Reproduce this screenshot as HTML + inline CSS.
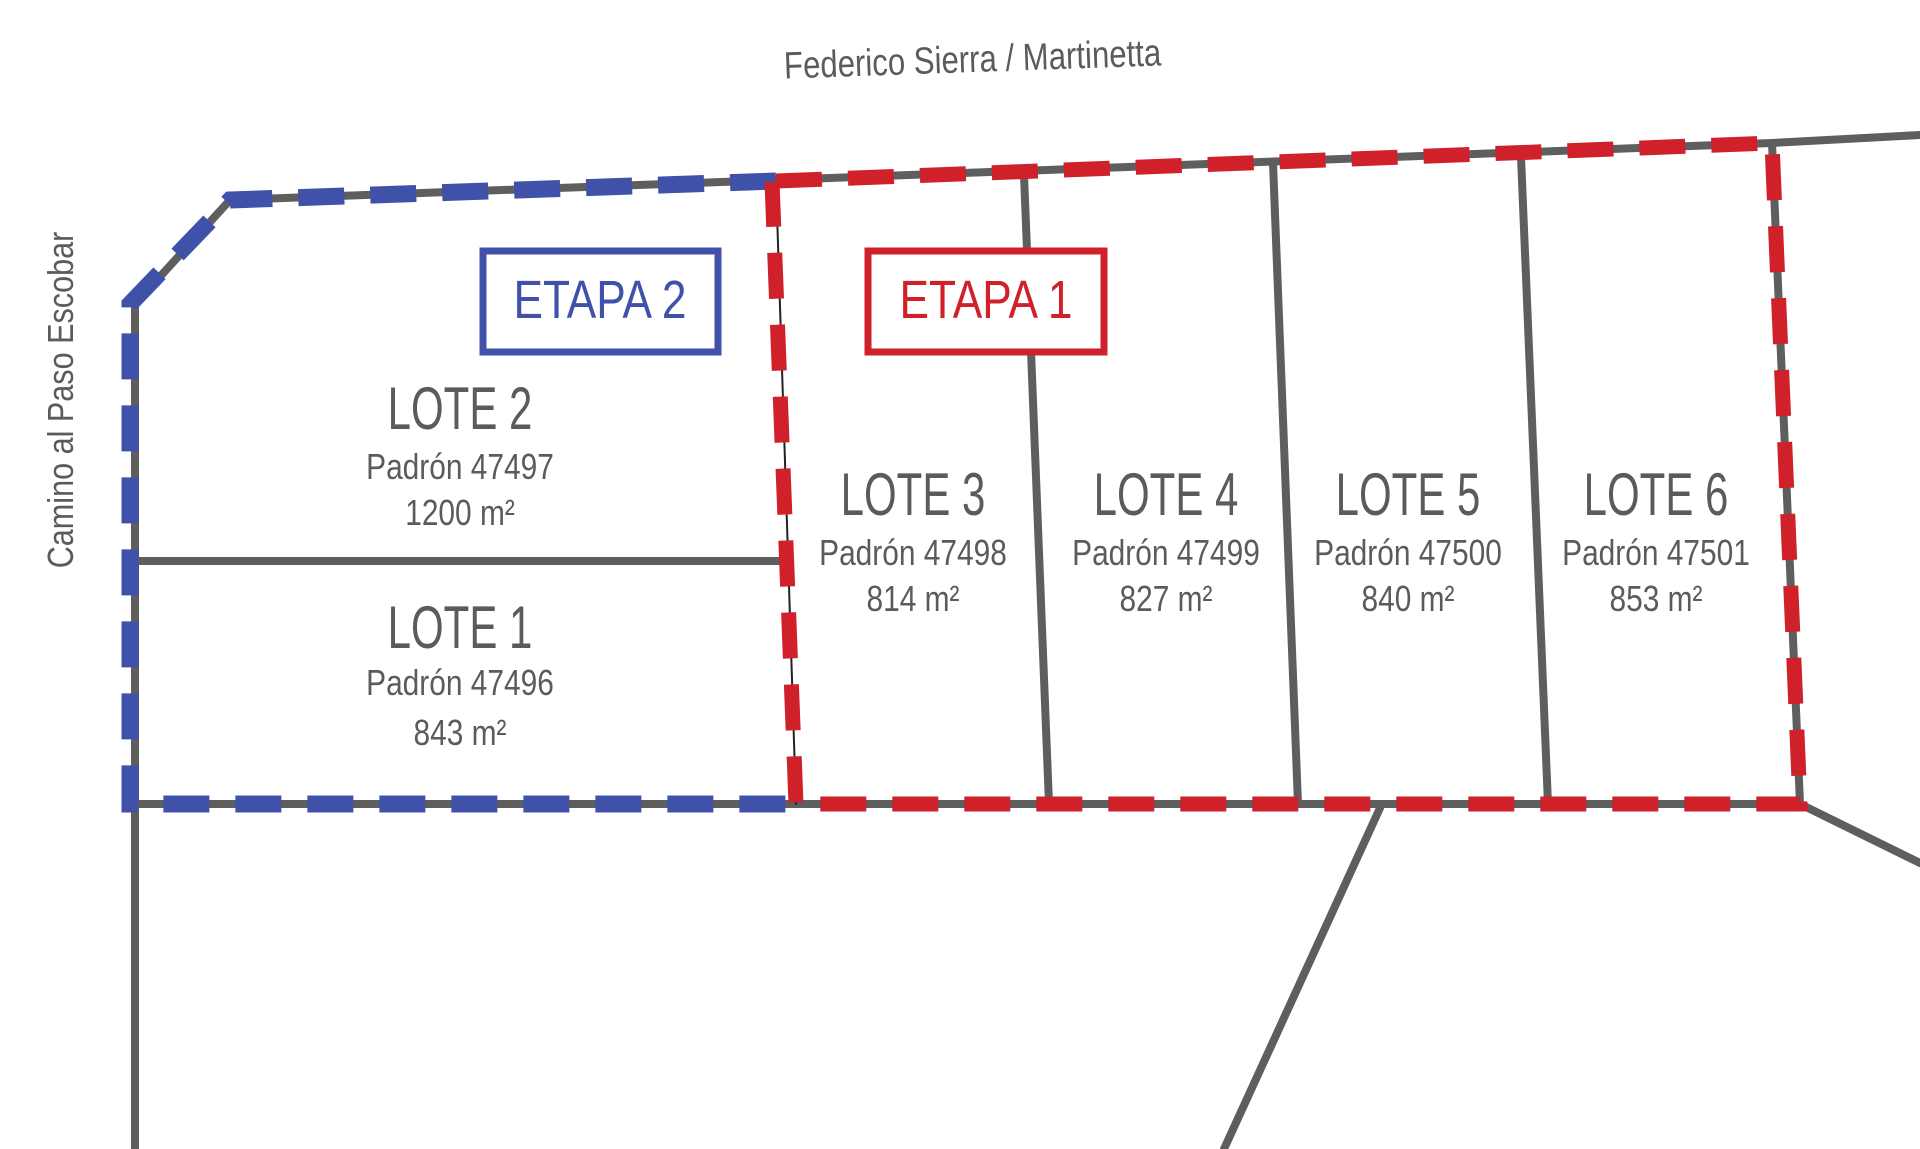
<!DOCTYPE html>
<html><head><meta charset="utf-8"><style>
html,body{margin:0;padding:0;background:#fff;width:1920px;height:1149px;overflow:hidden}
text{font-family:"Liberation Sans",sans-serif;fill:#5b5b5b}
</style></head><body>
<svg width="1920" height="1149" viewBox="0 0 1920 1149" xmlns="http://www.w3.org/2000/svg">
<g stroke="#5e5e5e" stroke-width="8" fill="none" stroke-linecap="round">
<polyline points="135,1149 135,304 230,200 776,180 1772,143 1920,135"/>
<line x1="130" y1="804" x2="1800" y2="804"/>
<line x1="1772" y1="143" x2="1800" y2="804"/>
<line x1="135" y1="561" x2="785" y2="561"/>
<line x1="1024" y1="175" x2="1049" y2="804"/>
<line x1="1273" y1="163" x2="1298" y2="804"/>
<line x1="1521" y1="157" x2="1548" y2="804"/>
<line x1="1380" y1="808" x2="1224" y2="1149"/>
<line x1="1800" y1="804" x2="1920" y2="863"/>
<line x1="776" y1="182" x2="796" y2="804" stroke-width="2" stroke="#222"/>
</g>
<polyline points="776,181 230,200 130,304 130,804 800,804" fill="none" stroke="#3f51a8" stroke-width="17" stroke-dasharray="46,26"/>
<polyline points="776,181 1772,143 1800,804 796,804 772,182" fill="none" stroke="#d0202a" stroke-width="15" stroke-dasharray="46,26"/>
<rect x="483" y="251" width="235" height="101" fill="#fff" stroke="#3f51a8" stroke-width="7"/>
<rect x="868" y="251" width="236" height="101" fill="#fff" stroke="#d0202a" stroke-width="7"/>
<g text-anchor="middle">
<g transform="translate(600,318) scale(0.82,1)"><text font-size="54" style="fill:#3f51a8">ETAPA 2</text></g>
<g transform="translate(986,318) scale(0.82,1)"><text font-size="54" style="fill:#d0202a">ETAPA 1</text></g>
<g transform="translate(973,72) rotate(-2) scale(0.82,1)"><text font-size="38">Federico Sierra / Martinetta</text></g>
<g transform="translate(73,400) rotate(-90) scale(0.85,1)"><text font-size="36">Camino al Paso Escobar</text></g>
<g transform="translate(460,429) scale(0.7,1)"><text font-size="60">LOTE 2</text></g>
<g transform="translate(460,479) scale(0.83,1)"><text font-size="36">Padrón 47497</text></g>
<g transform="translate(460,525) scale(0.83,1)"><text font-size="36">1200 m²</text></g>
<g transform="translate(460,648) scale(0.7,1)"><text font-size="60">LOTE 1</text></g>
<g transform="translate(460,695) scale(0.83,1)"><text font-size="36">Padrón 47496</text></g>
<g transform="translate(460,745) scale(0.83,1)"><text font-size="36">843 m²</text></g>
<g transform="translate(913,515) scale(0.7,1)"><text font-size="60">LOTE 3</text></g>
<g transform="translate(913,565) scale(0.83,1)"><text font-size="36">Padrón 47498</text></g>
<g transform="translate(913,611) scale(0.83,1)"><text font-size="36">814 m²</text></g>
<g transform="translate(1166,515) scale(0.7,1)"><text font-size="60">LOTE 4</text></g>
<g transform="translate(1166,565) scale(0.83,1)"><text font-size="36">Padrón 47499</text></g>
<g transform="translate(1166,611) scale(0.83,1)"><text font-size="36">827 m²</text></g>
<g transform="translate(1408,515) scale(0.7,1)"><text font-size="60">LOTE 5</text></g>
<g transform="translate(1408,565) scale(0.83,1)"><text font-size="36">Padrón 47500</text></g>
<g transform="translate(1408,611) scale(0.83,1)"><text font-size="36">840 m²</text></g>
<g transform="translate(1656,515) scale(0.7,1)"><text font-size="60">LOTE 6</text></g>
<g transform="translate(1656,565) scale(0.83,1)"><text font-size="36">Padrón 47501</text></g>
<g transform="translate(1656,611) scale(0.83,1)"><text font-size="36">853 m²</text></g>
</g>
</svg>
</body></html>
